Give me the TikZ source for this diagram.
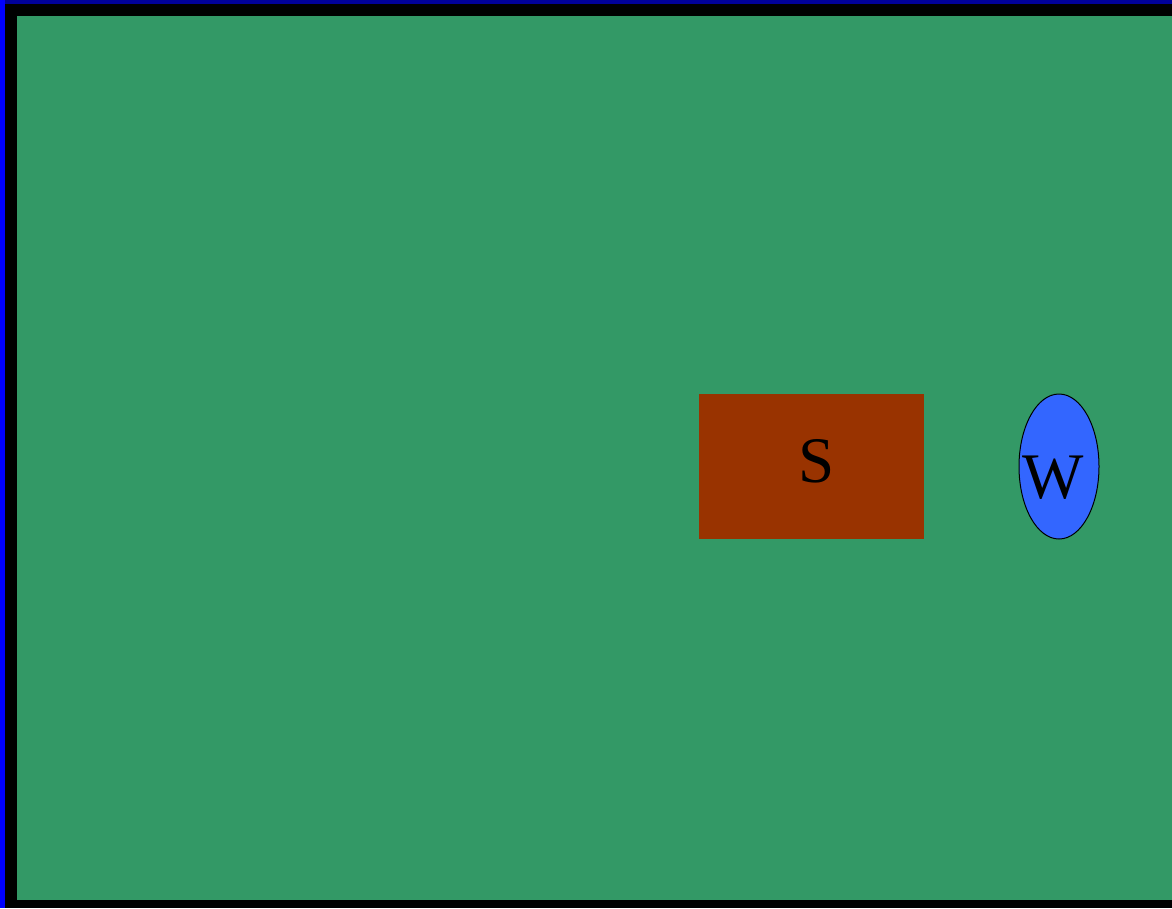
\documentclass[tikz,border=0pt]{standalone}
\usepackage{fontspec}
\setmainfont{Liberation Serif}
\usetikzlibrary{shapes.geometric}
\definecolor{bgreen}{HTML}{339966}
\definecolor{sbrown}{HTML}{993300}
\definecolor{wblue}{HTML}{3366FF}
\definecolor{edgeblue}{HTML}{0000FF}
\definecolor{topblue}{HTML}{000099}
\tikzset{
  lbl/.style={font=\fontsize{65}{65}\selectfont, text=black, anchor=base, inner sep=0pt},
}
\begin{document}
\begin{tikzpicture}[x=1pt,y=-1pt]
\useasboundingbox (0,0) rectangle (1172,908);
% outer strips
\fill[black] (0,0) rectangle (1172,908);
\fill[topblue] (0,0) rectangle (1172,4);
\fill[edgeblue] (0,0) rectangle (5,908);
% green field
\fill[bgreen] (17,16) rectangle (1172,900);
% S box
\node[draw=none, fill=sbrown, minimum width=225pt, minimum height=145pt, inner sep=0pt, anchor=north west] (sbox) at (699,394) {};
\node[lbl] (stext) at (817,482) {S};
% W ellipse
\node[ellipse, draw=black, line width=1pt, fill=wblue, minimum width=80pt, minimum height=145pt, inner sep=0pt] (wellipse) at (1059,466.5) {};
\node[lbl] (wtext) at (1053,498) {W};
\end{tikzpicture}
\end{document}
